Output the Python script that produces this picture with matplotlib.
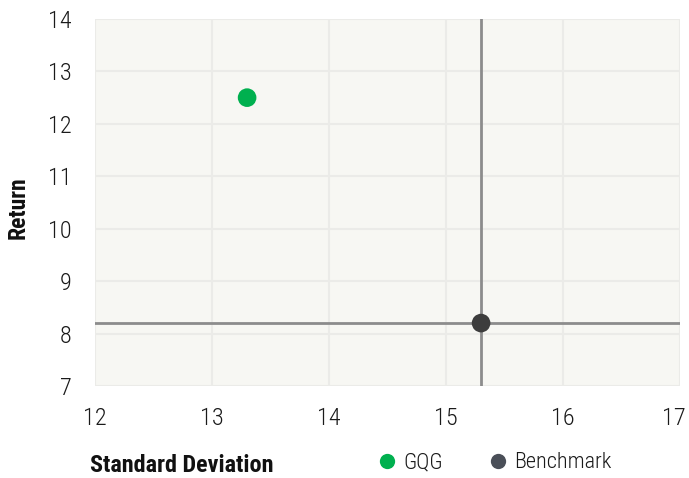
import matplotlib.pyplot as plt
import matplotlib.transforms as mtransforms
from matplotlib.lines import Line2D

# data
names = ['GQG', 'Benchmark']
std_dev = [13.3, 15.3]
returns = [12.5, 8.2]
colors = ['#00b04f', '#3d3d3d']
legend_colors = ['#00b04f', '#4a4f58']

x_ticks = [12, 13, 14, 15, 16, 17]
y_ticks = [7, 8, 9, 10, 11, 12, 13, 14]

plt.rcParams['font.family'] = ['Roboto Condensed', 'DejaVu Sans']

fig = plt.figure(figsize=(6.89, 4.78), dpi=100)
ax = fig.add_axes([95 / 689, 1 - 386 / 478, 585 / 689, 367 / 478])
ax.set_facecolor('#f7f7f3')

ax.set_xlim(x_ticks[0], x_ticks[-1])
ax.set_ylim(y_ticks[0], y_ticks[-1])
ax.set_xticks(x_ticks)
ax.set_yticks(y_ticks)
ax.grid(True, color='#ebebe8', linewidth=1.5)
ax.set_axisbelow(True)
for s in ax.spines.values():
    s.set_visible(False)
ax.tick_params(length=0, labelsize=17.5, colors='#1a1a1a')
ax.tick_params(axis='x', pad=15)
ax.tick_params(axis='y', pad=17)
for lbl in ax.get_xticklabels() + ax.get_yticklabels():
    lbl.set_fontweight('light')
# keep the last x label inside the figure
last = ax.get_xticklabels()[-1]
last.set_transform(last.get_transform() + mtransforms.ScaledTranslation(-6 / 100, 0, fig.dpi_scale_trans))

# crosshair through the benchmark
ax.axvline(std_dev[1], color='#8c8c8c', linewidth=2, zorder=2)
ax.axhline(returns[1], color='#8c8c8c', linewidth=2, zorder=2)

ax.scatter(std_dev, returns, s=180, c=colors, zorder=3, linewidths=0)

fig.text(18 / 689, 1 - 208 / 478, 'Return', rotation=90, ha='center', va='center',
         fontsize=17, fontweight='bold', color='#111111')
fig.text(182 / 689, 1 - 466 / 478, 'Standard Deviation', ha='center', va='center',
         fontsize=17.4, fontweight='bold', color='#111111')

handles = [Line2D([], [], marker='o', linestyle='', markersize=11, color=c,
                  markeredgewidth=0) for c in legend_colors]
leg = fig.legend(handles, names, loc='center left', bbox_to_anchor=(363 / 689, 1 - 463 / 478),
                 ncol=2, frameon=False, fontsize=16, handletextpad=0.1, columnspacing=1.9,
                 borderpad=0, handlelength=1.2, labelcolor='#1a1a1a')
for t in leg.get_texts():
    t.set_fontweight('light')

fig.savefig('out.png', dpi=100)
